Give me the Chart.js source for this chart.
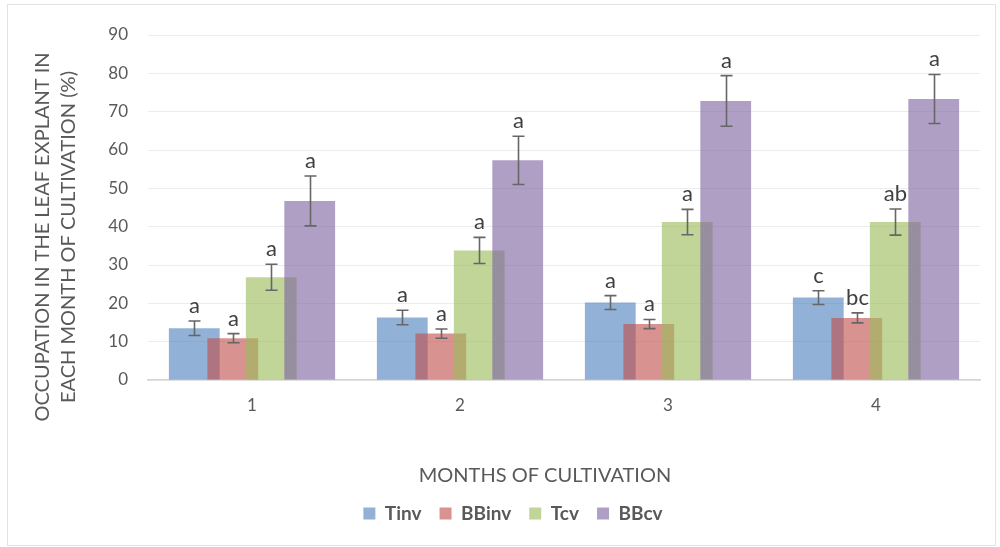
<!DOCTYPE html>
<html>
<head>
<meta charset="utf-8">
<script src="https://cdn.jsdelivr.net/npm/chart.js@4"></script>
<style>
  html, body { margin: 0; padding: 0; background: #ffffff; }
  #wrap { width: 1000px; height: 547px; position: relative; }
</style>
</head>
<body>
<div id="wrap"><canvas id="chart" width="1000" height="547"></canvas></div>
<script>
// Months on the x axis
const months = ['1', '2', '3', '4'];

// Mean occupation (%) per month, with standard error
const tinv = [13.5, 16.3, 20.2, 21.5];
const tinvErr = [1.9, 1.9, 1.8, 1.8];
const bbinv = [10.9, 12.1, 14.6, 16.2];
const bbinvErr = [1.2, 1.2, 1.2, 1.3];
const tcv = [26.8, 33.8, 41.2, 41.2];
const tcvErr = [3.4, 3.4, 3.3, 3.4];
const bbcv = [46.7, 57.3, 72.8, 73.3];
const bbcvErr = [6.5, 6.3, 6.6, 6.4];

// Significance letters above each bar
const tinvLetters = ['a', 'a', 'a', 'c'];
const bbinvLetters = ['a', 'a', 'a', 'bc'];
const tcvLetters = ['a', 'a', 'a', 'ab'];
const bbcvLetters = ['a', 'a', 'a', 'a'];

// Y axis ticks
const yTicks = [0, 10, 20, 30, 40, 50, 60, 70, 80, 90];

const seriesNames = ['Tinv', 'BBinv', 'Tcv', 'BBcv'];
const seriesValues = [tinv, bbinv, tcv, bbcv];
const seriesErrors = [tinvErr, bbinvErr, tcvErr, bbcvErr];
const seriesLetters = [tinvLetters, bbinvLetters, tcvLetters, bbcvLetters];
const seriesColors = [
  'rgba(79,129,189,0.62)',
  'rgba(192,80,77,0.62)',
  'rgba(155,187,89,0.62)',
  'rgba(128,100,162,0.62)'
];

const FONT = 'Lato, "Open Sans", sans-serif';
const TEXT = '#595959';

// White page with a thin light frame
const framePlugin = {
  id: 'frame',
  beforeDraw(chart) {
    const c = chart.ctx;
    c.save();
    c.fillStyle = '#ffffff';
    c.fillRect(0, 0, chart.width, chart.height);
    c.strokeStyle = '#e3e3e3';
    c.lineWidth = 1;
    c.strokeRect(7.5, 4.5, chart.width - 12, chart.height - 6);
    c.restore();
  }
};

// Draw the bars left to right so later series sit on top,
// then the error bars and letters
const barsPlugin = {
  id: 'barsAndErrors',
  beforeDatasetsDraw(chart) {
    const c = chart.ctx;
    const area = chart.chartArea;
    const metas = chart.getSortedVisibleDatasetMetas().slice().sort((a, b) => a.index - b.index);
    c.save();
    c.beginPath();
    c.rect(area.left, area.top - 40, area.right - area.left, area.bottom - area.top + 40);
    c.clip();
    metas.forEach(m => m.controller.draw());
    c.restore();

    const yScale = chart.scales.y;
    c.save();
    metas.forEach(m => {
      const ds = m.index;
      m.data.forEach((bar, i) => {
        const v = seriesValues[ds][i];
        const e = seriesErrors[ds][i];
        const x = Math.round(bar.x) + 0.5;
        const yTop = yScale.getPixelForValue(v + e);
        const yBot = yScale.getPixelForValue(v - e);
        c.strokeStyle = '#666666';
        c.lineWidth = 1.6;
        c.beginPath();
        c.moveTo(x, yTop); c.lineTo(x, yBot);
        c.moveTo(x - 6, yTop); c.lineTo(x + 6, yTop);
        c.moveTo(x - 6, yBot); c.lineTo(x + 6, yBot);
        c.stroke();
        c.fillStyle = '#404040';
        c.font = '22px ' + FONT;
        c.textAlign = 'center';
        c.textBaseline = 'alphabetic';
        c.fillText(seriesLetters[ds][i], x, yTop - 8);
      });
    });
    c.restore();
    return false;
  }
};

// Axis titles
const titlesPlugin = {
  id: 'axisTitles',
  afterDraw(chart) {
    const c = chart.ctx;
    c.save();
    c.fillStyle = TEXT;
    c.font = '20px ' + FONT;
    c.textAlign = 'center';
    c.textBaseline = 'middle';
    c.fillText('MONTHS OF CULTIVATION', 545, 476);
    c.translate(56, 237);
    c.rotate(-Math.PI / 2);
    c.fillText('OCCUPATION IN THE LEAF EXPLANT IN', 0, -13);
    c.fillText('EACH MONTH OF CULTIVATION (%)', 0, 13);
    c.restore();
  }
};

new Chart(document.getElementById('chart'), {
  type: 'bar',
  data: {
    labels: months,
    datasets: seriesNames.map((name, k) => ({
      label: name,
      data: seriesValues[k],
      backgroundColor: seriesColors[k],
      borderWidth: 0,
      categoryPercentage: 0.74,
      barPercentage: 1.32
    }))
  },
  options: {
    responsive: false,
    animation: false,
    devicePixelRatio: 1,
    layout: { padding: { top: 35, right: 20, bottom: 14, left: 46 } },
    plugins: {
      tooltip: { enabled: false },
      legend: {
        position: 'bottom',
        labels: {
          boxWidth: 12,
          boxHeight: 12,
          padding: 18,
          color: TEXT,
          font: { family: FONT, size: 19, weight: 'bold' }
        }
      }
    },
    scales: {
      x: {
        grid: { display: false, drawTicks: false },
        border: { display: true, color: '#d4d4d4', width: 1.5 },
        ticks: { color: TEXT, font: { family: FONT, size: 17 }, padding: 15 },
        afterFit(scale) { scale.height = 106; }
      },
      y: {
        min: 0,
        max: 90,
        afterBuildTicks(scale) { scale.ticks = yTicks.map(v => ({ value: v })); },
        grid: { color: '#ececec', lineWidth: 1, drawTicks: false },
        border: { display: false },
        ticks: { color: TEXT, font: { family: FONT, size: 17 }, padding: 20 },
        afterFit(scale) { scale.width = 102; }
      }
    }
  },
  plugins: [framePlugin, barsPlugin, titlesPlugin]
});
</script>
</body>
</html>
